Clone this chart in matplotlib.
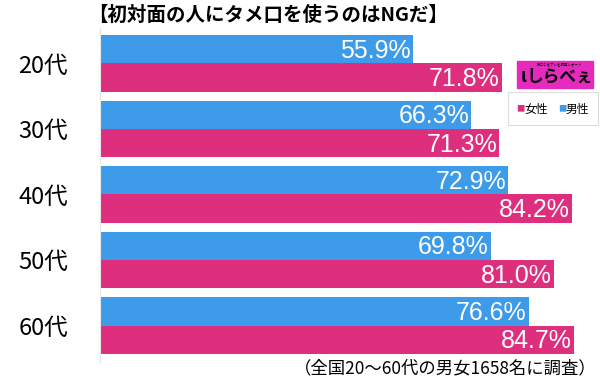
import matplotlib.pyplot as plt
from matplotlib.patches import Rectangle
import numpy as np

plt.rcParams['font.family'] = ['Noto Sans CJK JP', 'DejaVu Sans']

# data
ages = ['20代', '30代', '40代', '50代', '60代']
male = [55.9, 66.3, 72.9, 69.8, 76.6]
female = [71.8, 71.3, 84.2, 81.0, 84.7]
male_labels = ['55.9%', '66.3%', '72.9%', '69.8%', '76.6%']
female_labels = ['71.8%', '71.3%', '84.2%', '81.0%', '84.7%']

blue = '#3d9be9'
pink = '#de2e7e'
h = 0.435

fig = plt.figure(figsize=(6, 3.82), dpi=100)
ax = fig.add_axes([100 / 600, (382 - 362) / 382, 498 / 600, 334 / 382])

y = np.arange(len(ages))
ax.barh(y - h / 2, male, height=h, color=blue)
ax.barh(y + h / 2, female, height=h, color=pink)

for i in range(len(ages)):
    ax.text(male[i] - 0.4, y[i] - h / 2 + 0.02, male_labels[i], ha='right', va='center',
            color='white', fontsize=18, family='Liberation Sans')
    ax.text(female[i] - 0.4, y[i] + h / 2 + 0.02, female_labels[i], ha='right', va='center',
            color='white', fontsize=18, family='Liberation Sans')

ax.set_xlim(0, 88.9)
ax.set_ylim(4.435 + 8 / 65.5, -0.435 - 7 / 65.5)
ax.set_yticks(y)
ax.set_yticklabels(ages, fontsize=17)
ax.tick_params(axis='y', length=0, pad=23)
ax.set_xticks([])
for s in ['top', 'right', 'bottom']:
    ax.spines[s].set_visible(False)
ax.spines['left'].set_color('#e6e6e6')

# title and footnote
fig.text(88 / 600, 1 - 15 / 382, '【初対面の人にタメ口を使うのはNGだ】', ha='left', va='center',
         fontsize=14, fontweight='bold')
fig.text(597 / 600, 1 - 368 / 382, '（全国20〜60代の男女1658名に調査）', ha='right', va='center',
         fontsize=12.5)

# logo
fig.patches.append(Rectangle((517 / 600, 1 - 88 / 382), 76 / 600, 27 / 382,
                             transform=fig.transFigure, color='#e52bbd', zorder=3))
fig.text(560 / 600, 1 - 77 / 382, 'しらべぇ', ha='center', va='center', fontsize=12,
         fontweight='bold', color='black', zorder=4)
fig.text(521 / 600, 1 - 77 / 382, 'ι', ha='left', va='center', fontsize=13,
         fontweight='bold', color='black', zorder=4)
fig.text(560 / 600, 1 - 65 / 382, '気になるアレを調査レポート', ha='center', va='center',
         fontsize=2.5, color='black', zorder=4)

# legend box
fig.patches.append(Rectangle((508 / 600, 1 - 125 / 382), 90 / 600, 33 / 382,
                             transform=fig.transFigure, facecolor='white',
                             edgecolor='#dddddd', lw=0.8, zorder=3))
fig.text(516 / 600, 1 - 109 / 382, '■', color=pink, ha='left', va='center', fontsize=6, zorder=4)
fig.text(524 / 600, 1 - 109 / 382, '女性', ha='left', va='center', fontsize=8.5, zorder=4)
fig.text(558 / 600, 1 - 109 / 382, '■', color=blue, ha='left', va='center', fontsize=6, zorder=4)
fig.text(566 / 600, 1 - 109 / 382, '男性', ha='left', va='center', fontsize=8.5, zorder=4)

plt.savefig('out.png')
